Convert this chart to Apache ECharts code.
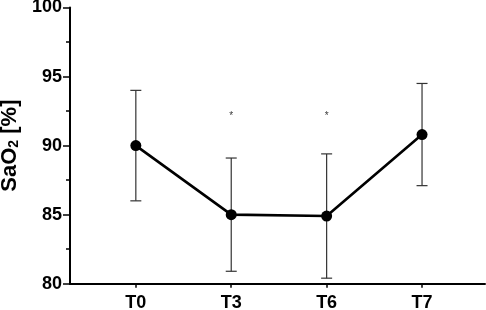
<!DOCTYPE html>
<html><head><meta charset="utf-8">
<script src="https://cdn.jsdelivr.net/npm/echarts@6/dist/echarts.min.js"></script>
<style>html,body{margin:0;padding:0;background:#fff}#c{width:486px;height:310px}</style>
</head><body><div id="c"></div>
<script>
var categories = ['T0', 'T3', 'T6', 'T7'];
var means = [90.0, 85.0, 84.9, 90.8];
var upper = [94.0, 89.1, 89.4, 94.5];
var lower = [86.0, 80.9, 80.4, 87.1];
var starY = [null, 92.2, 92.2, null];
var yTicks = [80, 85, 90, 95, 100];

var chart = echarts.init(document.getElementById('c'));
var F = '"Liberation Sans", Arial, sans-serif';
chart.setOption({
  animation: false,
  grid: { left: 70, right: 1, top: 7.5, bottom: 26.3, containLabel: false, outerBoundsMode: 'none' },
  xAxis: {
    type: 'value', min: -0.69, max: 3.66,
    splitLine: { show: false },
    axisLine: { show: true, onZero: false, lineStyle: { color: '#000', width: 2 } },
    axisTick: { show: true, length: 4, customValues: [0, 1, 2, 3], lineStyle: { color: '#000', width: 1.5 } },
    axisLabel: { customValues: [0, 1, 2, 3], formatter: function (v) { return categories[Math.round(v)]; },
      color: '#000', fontFamily: F, fontWeight: 'bold', fontSize: 18, margin: 10 }
  },
  yAxis: {
    type: 'value', min: yTicks[0], max: yTicks[yTicks.length - 1], interval: 5,
    splitLine: { show: false },
    axisLine: { show: true, onZero: false, lineStyle: { color: '#000', width: 2 } },
    axisTick: { show: true, length: 7, lineStyle: { color: '#000', width: 1.5 } },
    minorTick: { show: true, splitNumber: 2, length: 4, lineStyle: { color: '#000', width: 1.5 } },
    axisLabel: { color: '#000', fontFamily: F, fontWeight: 'bold', fontSize: 18, margin: 8 },
    name: '{a|SaO}{s|2}{a| [%]}',
    nameLocation: 'middle', nameGap: 45,
    nameTextStyle: {
      rich: {
        a: { fontFamily: F, fontWeight: 'bold', fontSize: 22, color: '#000', verticalAlign: 'bottom', lineHeight: 26 },
        s: { fontFamily: F, fontWeight: 'bold', fontSize: 14, color: '#000', verticalAlign: 'bottom', lineHeight: 12 }
      }
    }
  },
  series: [
    {
      type: 'custom',
      data: categories.map(function (c, i) { return [i, lower[i], upper[i]]; }),
      renderItem: function (params, api) {
        var x = api.value(0);
        var lo = api.coord([x, api.value(1)]);
        var hi = api.coord([x, api.value(2)]);
        var hw = 5.5;
        var st = { stroke: '#333', lineWidth: 1.2 };
        return { type: 'group', children: [
          { type: 'line', shape: { x1: lo[0], y1: lo[1], x2: hi[0], y2: hi[1] }, style: st },
          { type: 'line', shape: { x1: lo[0] - hw, y1: lo[1], x2: lo[0] + hw, y2: lo[1] }, style: st },
          { type: 'line', shape: { x1: hi[0] - hw, y1: hi[1], x2: hi[0] + hw, y2: hi[1] }, style: st }
        ]};
      },
      z: 1
    },
    {
      type: 'line',
      data: means.map(function (v, i) { return [i, v]; }),
      symbol: 'circle', symbolSize: 11,
      lineStyle: { color: '#000', width: 2.6 },
      itemStyle: { color: '#000' },
      z: 3
    },
    {
      type: 'scatter',
      data: starY.map(function (v, i) { return v == null ? null : [i, v]; }).filter(function (d) { return d; }),
      symbolSize: 0,
      label: { show: true, position: 'inside', formatter: '*', color: '#000', fontFamily: F, fontSize: 10, offset: [0, 1] },
      z: 4
    }
  ]
});
</script></body></html>
